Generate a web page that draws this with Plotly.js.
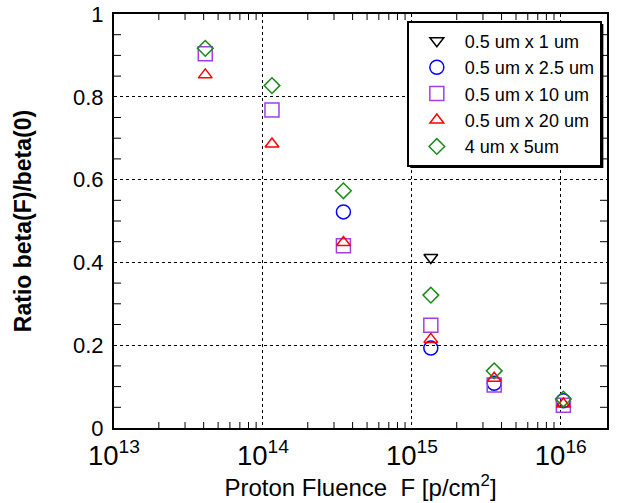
<!DOCTYPE html>
<html>
<head>
<meta charset="utf-8">
<script src="https://cdn.plot.ly/plotly-3.0.1.min.js"></script>
<style>html,body{margin:0;padding:0;background:#fff;}#chart{width:619px;height:503px;}</style>
</head>
<body>
<div id="chart"></div>
<script>
// Fluence values [p/cm^2]
const fluence = [4.1e13, 1.15e14, 3.47e14, 1.34e15, 3.57e15, 1.04e16];

const names = ["0.5 um x 1 um", "0.5 um x 2.5 um", "0.5 um x 10 um", "0.5 um x 20 um", "4 um x 5um"];

// Ratio beta(F)/beta(0) for each device (null = not measured)
const r_05x1   = [null, null, null, 0.412, null, null];
const r_05x25  = [null, null, 0.522, 0.193, 0.108, 0.066];
const r_05x10  = [0.904, 0.768, 0.440, 0.248, 0.104, 0.055];
const r_05x20  = [0.853, 0.686, 0.448, 0.214, 0.120, 0.058];
const r_4x5    = [0.917, 0.827, 0.573, 0.321, 0.138, 0.070];

// minor tick positions (axis decoration only)
const minorX = [];
for (let e = 13; e <= 16; e++) for (let m = 2; m <= 9; m++) { const v = m * Math.pow(10, e); if (v < 2.0e16) minorX.push(v); }
const minorY = [];
for (let i = 1; i < 20; i++) if (i % 4 !== 0) minorY.push(i * 0.05);

const series = [
  {y: r_05x1,  name: names[0], color: "#000000", symbol: "triangle-down-open", size: 12},
  {y: r_05x25, name: names[1], color: "#0000ff", symbol: "circle-open", size: 14},
  {y: r_05x10, name: names[2], color: "#a040e0", symbol: "square-open", size: 14},
  {y: r_05x20, name: names[3], color: "#ff0000", symbol: "triangle-up-open", size: 12},
  {y: r_4x5,   name: names[4], color: "#1a8a1a", symbol: "diamond-open", size: 12}
];

const traces = series.map(s => ({
  x: fluence, y: s.y, name: s.name, type: "scatter", mode: "markers",
  marker: {symbol: s.symbol, size: s.size, color: s.color, line: {color: s.color, width: 1.5}}
}));

// minor tick marks as pixel-sized shapes anchored to the axes
const tickLine = {color: "#000", width: 1};
const tickShapes = [];
minorX.forEach(v => {
  tickShapes.push({type: "line", xref: "x", yref: "paper", ysizemode: "pixel", yanchor: 0, x0: v, x1: v, y0: 0, y1: 6, line: tickLine, layer: "above"});
  tickShapes.push({type: "line", xref: "x", yref: "paper", ysizemode: "pixel", yanchor: 1, x0: v, x1: v, y0: -6, y1: 0, line: tickLine, layer: "above"});
});
minorY.forEach(v => {
  tickShapes.push({type: "line", xref: "paper", yref: "y", xsizemode: "pixel", xanchor: 0, x0: 0, x1: 7, y0: v, y1: v, line: tickLine, layer: "above"});
  tickShapes.push({type: "line", xref: "paper", yref: "y", xsizemode: "pixel", xanchor: 1, x0: -7, x1: 0, y0: v, y1: v, line: tickLine, layer: "above"});
});

const font = "Arial, 'Liberation Sans', sans-serif";

const layout = {
  width: 619, height: 503,
  margin: {l: 114, r: 12, t: 14, b: 75},
  font: {family: font, color: "#000"},
  showlegend: true,
  legend: {
    x: 0.594, y: 0.984, xanchor: "left", yanchor: "top",
    bgcolor: "#fff", bordercolor: "#000", borderwidth: 2,
    font: {family: font, size: 18},
    itemwidth: 46
  },
  shapes: tickShapes,
  xaxis: {
    type: "log", range: [13, 16.31],
    tick0: 0, dtick: 1, exponentformat: "power",
    ticks: "outside", ticklen: 3, tickcolor: "rgba(0,0,0,0)",
    showline: true, linecolor: "#000", linewidth: 2, mirror: true,
    showgrid: true, gridcolor: "#000", griddash: "dot", zeroline: false,
    tickfont: {family: font, size: 22},
    title: {text: "Proton Fluence  F [p/cm<sup>2</sup>]", font: {family: font, size: 24}, standoff: 4}
  },
  yaxis: {
    range: [0, 1], tick0: 0, dtick: 0.2,
    ticks: "outside", ticklen: 4, tickcolor: "rgba(0,0,0,0)",
    showline: true, linecolor: "#000", linewidth: 2, mirror: true,
    showgrid: true, gridcolor: "#000", griddash: "dot", zeroline: false,
    tickfont: {family: font, size: 22},
    title: {text: "<b>Ratio beta(F)/beta(0)</b>", font: {family: font, size: 23}, standoff: 35}
  }
};

Plotly.newPlot("chart", traces, layout, {displayModeBar: false, staticPlot: true}).then(gd => {
  // drop shadow behind legend box
  const bg = gd.querySelector(".legend .bg");
  if (!bg) return;
  const r = bg.getBoundingClientRect();
  const c = gd.getBoundingClientRect();
  const fl = gd._fullLayout, xa = fl.xaxis, ya = fl.yaxis;
  const px2x = p => (p - fl.margin.l) / xa._length;
  const px2y = p => 1 - (p - fl.margin.t) / ya._length;
  const off = 2.5;
  const x0 = r.left - c.left + off, x1 = r.right - c.left + off;
  const y0 = r.top - c.top + off, y1 = r.bottom - c.top + off;
  return Plotly.relayout(gd, {shapes: tickShapes.concat([{
    type: "rect", xref: "paper", yref: "paper", layer: "above",
    x0: px2x(x0), x1: px2x(x1), y0: px2y(y1), y1: px2y(y0),
    fillcolor: "#000", line: {width: 0}
  }])});
});
</script>
</body>
</html>
